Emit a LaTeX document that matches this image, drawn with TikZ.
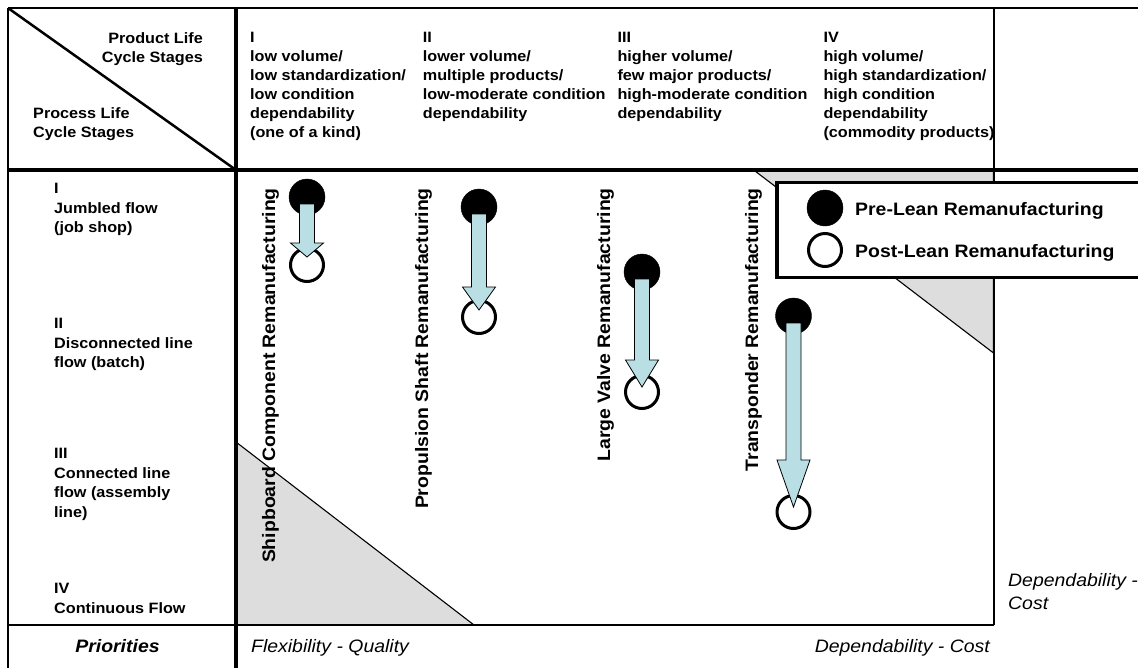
\documentclass[tikz,border=0pt]{standalone}
\usepackage{fontspec}
\setmainfont{Liberation Sans}[FakeStretch=1.08]
\usetikzlibrary{calc}
\definecolor{shade}{RGB}{221,221,221}
\definecolor{arrowblue}{RGB}{185,223,228}

% block arrow from a pre-lean circle down to its post-lean circle
% #1 start node, #2 end node, #3 head length, #4 gap between tip and end centre
\newcommand{\flowarrow}[4]{%
  \draw[flow] ($(#1.center)+(-7.5,7)$) -- ($(#2.center)+(-7.5,-#4-#3)$)
    -- ($(#2.center)+(-16.5,-#4-#3)$) -- ($(#2.center)+(0,-#4)$)
    -- ($(#2.center)+(16.5,-#4-#3)$) -- ($(#2.center)+(7.5,-#4-#3)$)
    -- ($(#1.center)+(7.5,7)$) -- cycle;}

\begin{document}
\begin{tikzpicture}[x=1pt,y=-1pt,
  frame/.style={line width=2pt},
  heavy/.style={line width=3.4pt},
  zone/.style={fill=shade, draw=black, line width=1.1pt},
  colhead/.style={font=\bfseries\fontsize{15}{19}\selectfont, align=left, anchor=north west, inner sep=0pt},
  rowhead/.style={font=\bfseries\fontsize{15}{19.5}\selectfont, align=left, anchor=north west, inner sep=0pt},
  prio/.style={font=\itshape\fontsize{18}{23}\selectfont, inner sep=0pt},
  part/.style={font=\bfseries\fontsize{18}{22}\selectfont, rotate=90, anchor=base east, inner sep=0pt},
  pre/.style={circle, fill=black, draw=black, minimum size=36pt, inner sep=0pt},
  post/.style={circle, fill=white, draw=black, line width=3pt, minimum size=33pt, inner sep=0pt},
  flow/.style={fill=arrowblue, draw=black, line width=0.8pt, line join=miter},
  key/.style={font=\bfseries\fontsize{18}{22}\selectfont, anchor=base west, inner sep=0pt}
]
\clip (0,0) rectangle (1138,667);
\fill[white] (0,0) rectangle (1138,667);

% shaded corner zones
\filldraw[zone] (755,171) -- (993.5,171) -- (993.5,353) -- cycle;
\filldraw[zone] (236,442) -- (236,625) -- (474,625) -- cycle;

% table frame
\draw[frame] (8,8) -- (1140,8);
\draw[frame] (8,8) -- (8,670);
\draw[heavy] (236,8) -- (236,670);
\draw[heavy] (8,170) -- (1140,170);
\draw[frame] (993.5,8) -- (993.5,625);
\draw[frame] (8,625) -- (993.5,625);
\draw[line width=2.5pt] (8,8) -- (236,170);

% corner headings
\node[colhead, align=right, anchor=north east] (prodstages) at (203,32) {Product Life\\Cycle Stages};
\node[colhead] (procstages) at (33,107) {Process Life\\Cycle Stages};

% product stages
\node[colhead] (stageI) at (250,32) {I\\low volume/\\low standardization/\\low condition\\dependability\\(one of a kind)};
\node[colhead] (stageII) at (422.7,32) {II\\lower volume/\\multiple products/\\low-moderate condition\\dependability};
\node[colhead] (stageIII) at (617.3,32) {III\\higher volume/\\few major products/\\high-moderate condition\\dependability};
\node[colhead] (stageIV) at (823.3,32) {IV\\high volume/\\high standardization/\\high condition\\dependability\\(commodity products)};

% process stages
\node[rowhead] (procI) at (54,183) {I\\Jumbled flow\\(job shop)};
\node[rowhead] (procII) at (54,318) {II\\Disconnected line\\flow (batch)};
\node[rowhead] (procIII) at (54,448) {III\\Connected line\\flow (assembly\\line)};
\node[rowhead] (procIV) at (54,583) {IV\\Continuous Flow};

% priorities
\node[prio, font=\bfseries\itshape\fontsize{18}{23}\selectfont, anchor=base] (prio) at (117.5,652) {Priorities};
\node[prio, anchor=base west] (flexq) at (251,652) {Flexibility - Quality};
\node[prio, anchor=base east] (depcost) at (990,652) {Dependability - Cost};
\node[prio, align=left, anchor=north west] (depcostside) at (1008,573) {Dependability -\\Cost};

% legend
\node[draw, line width=3.5pt, fill=white, outer sep=0pt, inner sep=0pt,
      minimum width=380pt, minimum height=95pt, anchor=north west] (legend) at (777,182.5) {};
\node[pre] (keypre) at (825,208) {};
\node[post] (keypost) at (825,250) {};
\node[key] (keypretext) at (855,215) {Pre-Lean Remanufacturing};
\node[key] (keyposttext) at (855,257) {Post-Lean Remanufacturing};

% remanufacturing lines, before and after
\node[pre] (shipA) at (307,197) {};
\node[post] (shipB) at (307,265) {};
\node[pre] (propA) at (479,207) {};
\node[post] (propB) at (479,317) {};
\node[pre] (valveA) at (642,272) {};
\node[post] (valveB) at (642,392) {};
\node[pre] (transA) at (793.5,316) {};
\node[post] (transB) at (793.5,512) {};

\flowarrow{shipA}{shipB}{14}{8}
\flowarrow{propA}{propB}{23}{7}
\flowarrow{valveA}{valveB}{27}{5}
\flowarrow{transA}{transB}{47}{5}

\node[part] (shiplabel) at (275,188) {Shipboard Component Remanufacturing};
\node[part] (proplabel) at (428,188) {Propulsion Shaft Remanufacturing};
\node[part] (valvelabel) at (610,188) {Large Valve Remanufacturing};
\node[part] (translabel) at (758,188) {Transponder Remanufacturing};
\end{tikzpicture}
\end{document}
